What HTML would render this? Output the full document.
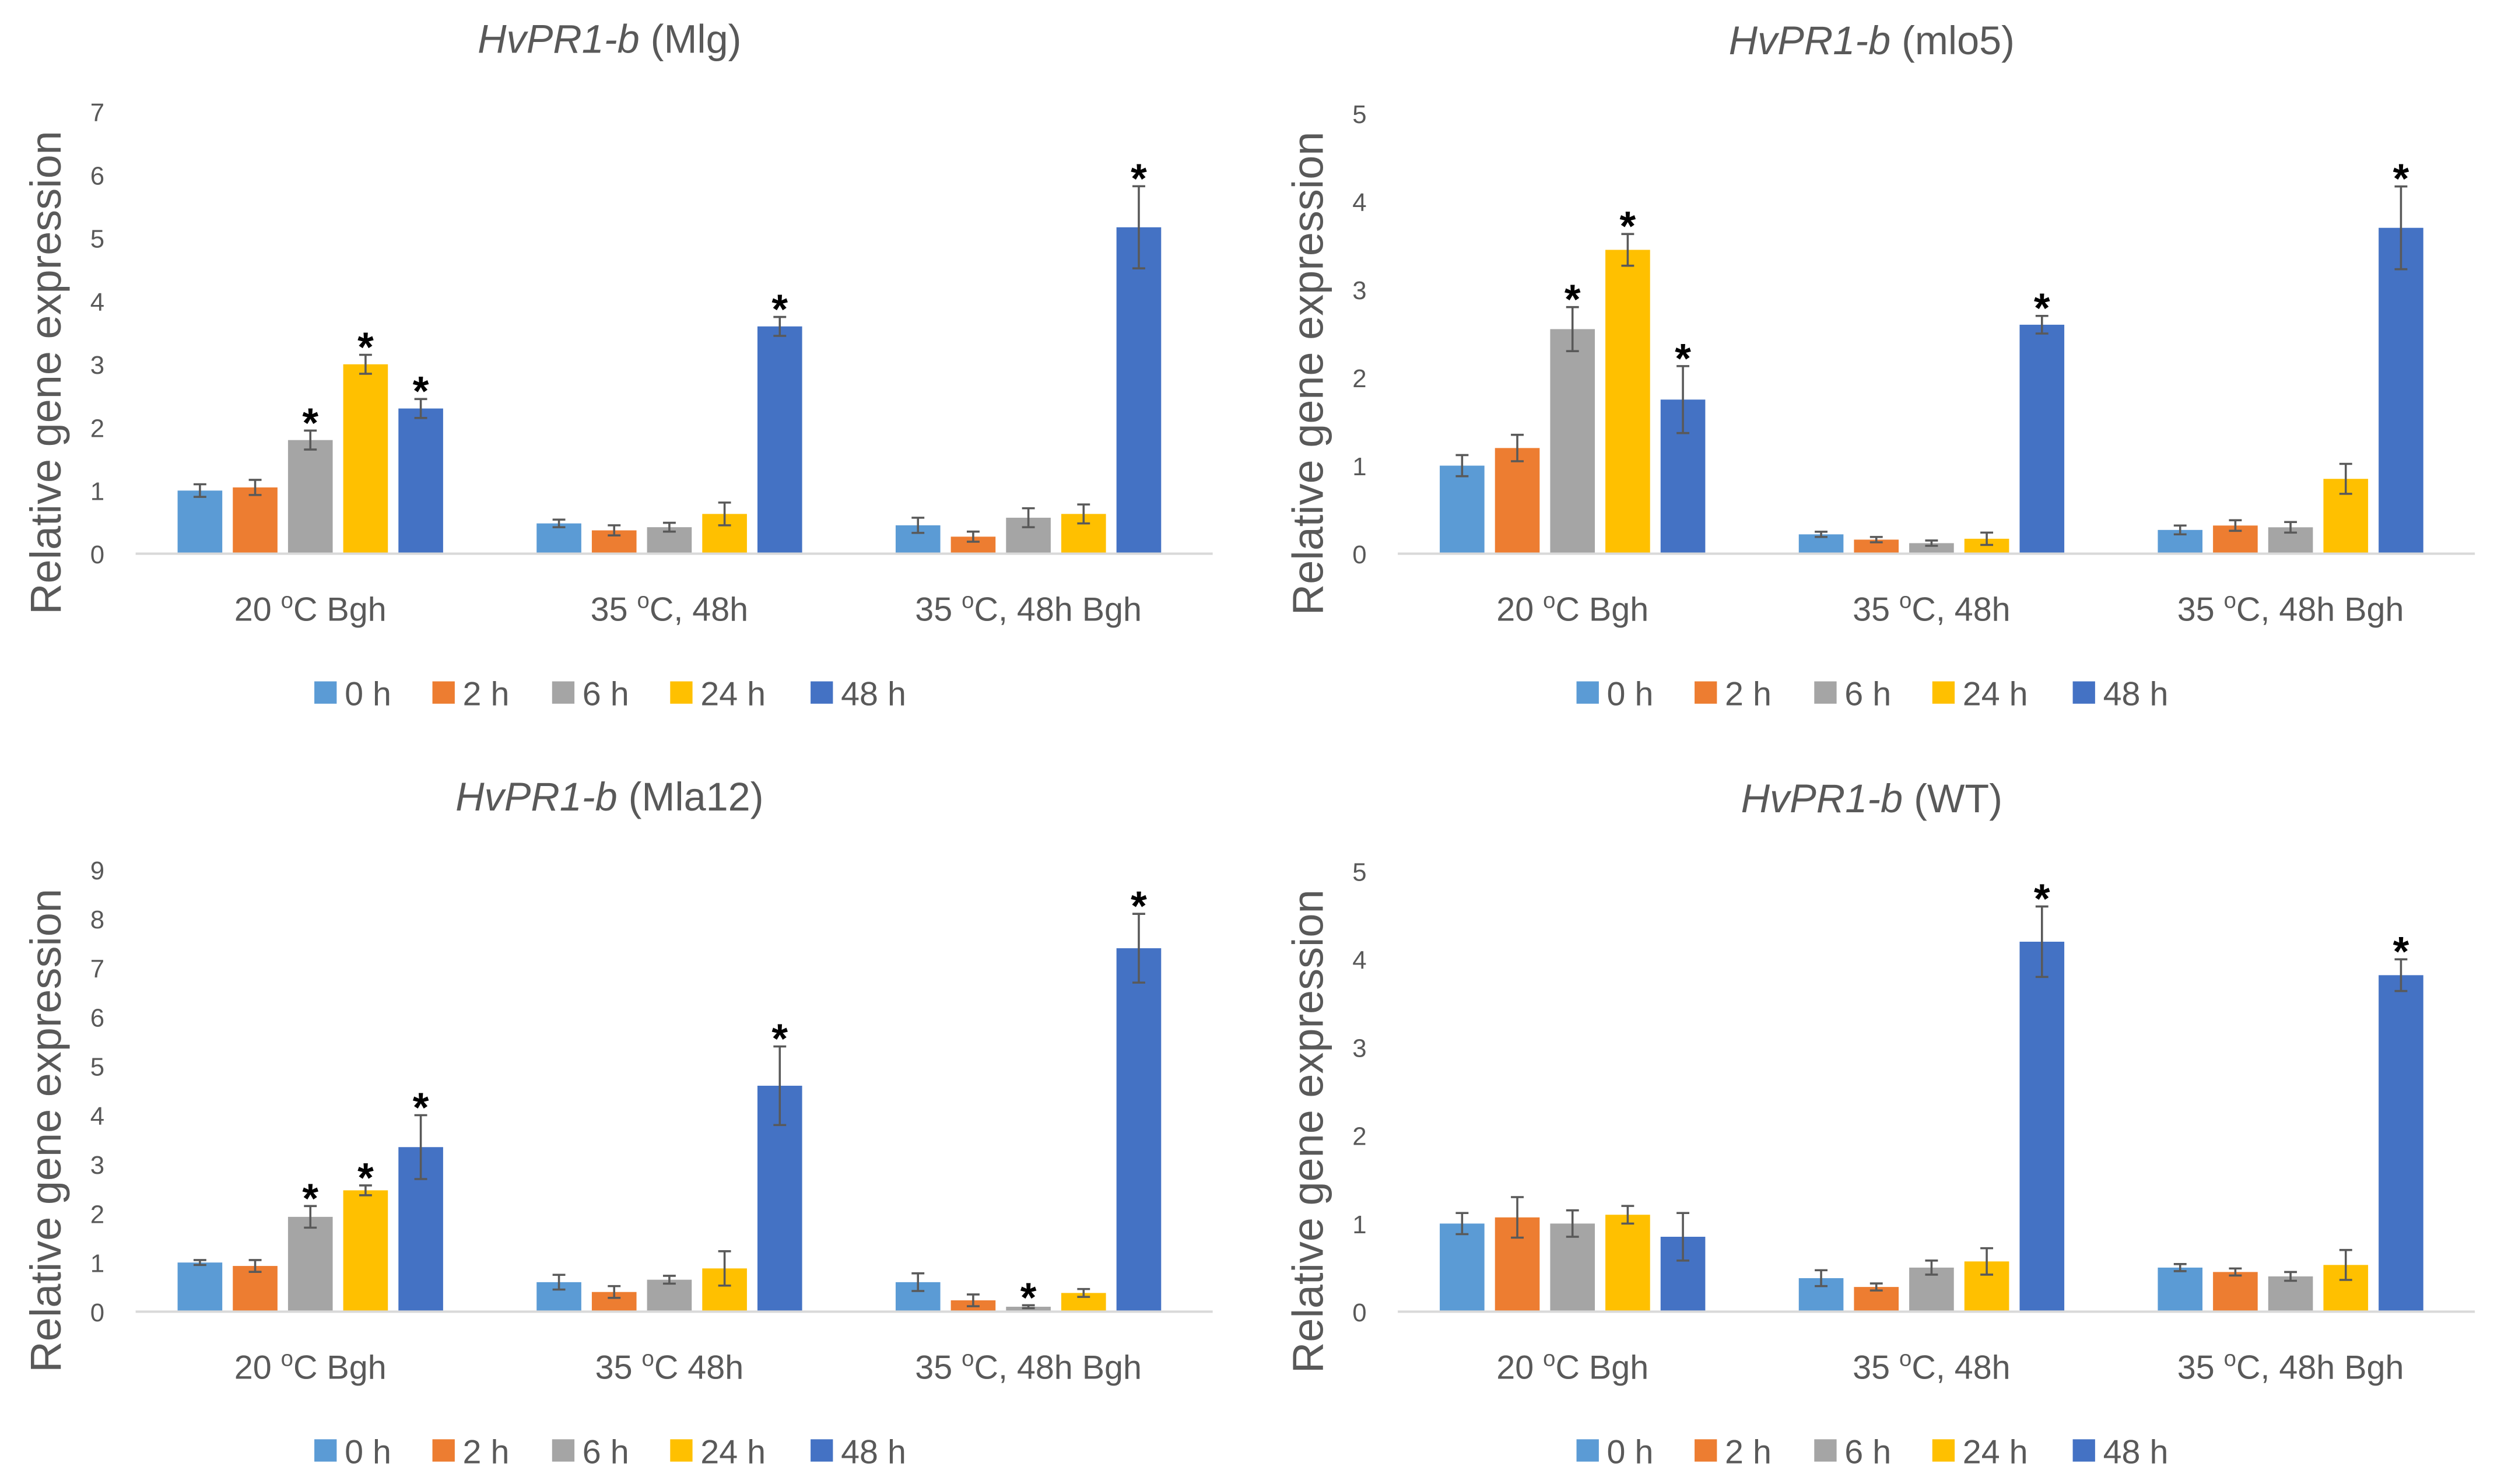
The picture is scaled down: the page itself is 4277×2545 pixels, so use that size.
<!DOCTYPE html>
<html><head><meta charset="utf-8"><style>
html,body{margin:0;padding:0;background:#fff;}
svg{display:block;}
</style></head>
<body>
<svg id="fig" width="4277" height="2545" viewBox="0 0 1563 930" xmlns="http://www.w3.org/2000/svg"></svg>
<script>
const categoriesA = ["20 |C Bgh", "35 |C, 48h", "35 |C, 48h Bgh"];
const categoriesC = ["20 |C Bgh", "35 |C 48h", "35 |C, 48h Bgh"];
const seriesNames = ["0 h", "2 h", "6 h", "24 h", "48 h"];
const seriesColors = ["#5B9BD5", "#ED7D31", "#A5A5A5", "#FFC000", "#4472C4"];

const mlgValues = [[1.0,1.05,1.8,3.0,2.3],[0.48,0.37,0.42,0.63,3.6],[0.45,0.27,0.57,0.63,5.17]];
const mlgErrors = [[0.1,0.12,0.15,0.15,0.15],[0.06,0.08,0.07,0.18,0.15],[0.12,0.08,0.15,0.15,0.65]];
const mlgStars = [[2,3,4],[4],[4]];
const mlgTicks = [0,1,2,3,4,5,6,7];

const mlo5Values = [[1.0,1.2,2.55,3.45,1.75],[0.22,0.16,0.12,0.17,2.6],[0.27,0.32,0.3,0.85,3.7]];
const mlo5Errors = [[0.12,0.15,0.25,0.18,0.38],[0.03,0.03,0.03,0.07,0.1],[0.05,0.06,0.06,0.17,0.47]];
const mlo5Stars = [[2,3,4],[4],[4]];
const mlo5Ticks = [0,1,2,3,4,5];

const mla12Values = [[1.0,0.93,1.93,2.47,3.35],[0.6,0.4,0.65,0.88,4.6],[0.6,0.23,0.1,0.38,7.4]];
const mla12Errors = [[0.05,0.12,0.22,0.1,0.65],[0.15,0.12,0.08,0.35,0.8],[0.18,0.12,0.03,0.08,0.7]];
const mla12Stars = [[2,3,4],[4],[2,4]];
const mla12Ticks = [0,1,2,3,4,5,6,7,8,9];

const wtValues = [[1.0,1.07,1.0,1.1,0.85],[0.38,0.28,0.5,0.57,4.2],[0.5,0.45,0.4,0.53,3.82]];
const wtErrors = [[0.12,0.23,0.15,0.1,0.27],[0.09,0.04,0.08,0.15,0.4],[0.04,0.04,0.05,0.17,0.18]];
const wtStars = [[],[4],[4]];
const wtTicks = [0,1,2,3,4,5];

const NS = "http://www.w3.org/2000/svg";
const svg = document.getElementById('fig');
const FONT = '"Liberation Sans Narrow","Liberation Sans",sans-serif';
function mk(tag, attrs, parent){
  const e = document.createElementNS(NS, tag);
  for (const k in attrs) e.setAttribute(k, attrs[k]);
  (parent||svg).appendChild(e);
  return e;
}
function catLabel(g, txt, x, y, name){
  const t = mk('text', {x:x, y:y, 'text-anchor':'middle', 'font-size':21, fill:'#595959', 'font-family':FONT}, g);
  
  
  const parts = txt.split('|');
  const a = mk('tspan', {}, t); a.textContent = parts[0];
  const b = mk('tspan', {dy:-8, 'font-size':14}, t); b.textContent = 'o';
  const c = mk('tspan', {dy:8}, t); c.textContent = parts[1];
}
function drawChart(opt){
  const g = mk('g', {});
  
  
  const left = opt.left, right = opt.left + 675, base = opt.base, top = opt.top;
  const maxV = opt.ticks[opt.ticks.length-1];
  const yS = v => base - v / maxV * (base - top);
  const groupW = (right - left) / opt.cats.length;
  const xC = i => left - 3 + groupW * (i + 0.5);
  const step = 34.6, bw = 28;
  const tt = mk('text', {x: left + 297, y: opt.top - 37, 'text-anchor':'middle', 'font-size':25, fill:'#595959', 'font-family':FONT}, g);
  
  
  const t1 = mk('tspan', {'font-style':'italic'}, tt); t1.textContent = 'HvPR1-b';
  const t2 = mk('tspan', {}, tt); t2.textContent = ' (' + opt.label + ')';
  opt.ticks.forEach(v => {
    const t = mk('text', {x:left - 24, y: yS(v) + 6, 'text-anchor':'middle', 'font-size':16, fill:'#595959', 'font-family':FONT}, g);
    
    
    t.textContent = v;
  });
  const yt = mk('text', {x:0, y:0, transform:'translate(' + (left - 47) + ',' + ((top + base)/2 + 25) + ') rotate(-90)', 'text-anchor':'middle', 'font-size':27, fill:'#595959', 'font-family':'"Liberation Sans",sans-serif'}, g);
  
  
  yt.textContent = 'Relative gene expression';
  opt.values.forEach((grp, gi) => {
    grp.forEach((v, si) => {
      const cx = xC(gi) + (si - 2) * step;
      const r = mk('rect', {x: cx - bw/2, y: yS(v), width: bw, height: base - yS(v), fill: seriesColors[si]}, g);
      
      
      const e = opt.errors[gi][si];
      const yt1 = yS(v + e), yb = yS(Math.max(0, v - e));
      const eb = mk('path', {d:'M' + cx + ' ' + yt1 + 'V' + yb + 'M' + (cx-4) + ' ' + yt1 + 'H' + (cx+4) + 'M' + (cx-4) + ' ' + yb + 'H' + (cx+4), stroke:'#595959', 'stroke-width':1.3, fill:'none'}, g);
      
      
      if (opt.stars[gi].indexOf(si) >= 0) {
        const s = mk('text', {x: cx, y: yt1 + 4, 'text-anchor':'middle', 'font-size':26, 'font-weight':'bold', fill:'#000', 'font-family':'"Liberation Sans",sans-serif'}, g);
        
        
        s.textContent = '*';
      }
    });
    catLabel(g, opt.cats[gi], xC(gi), base + 42, 'x-category-label');
  });
  const ax = mk('line', {x1:left, x2:right, y1:base, y2:base, stroke:'#D9D9D9', 'stroke-width':1.5}, g);
  
  
  const lx = [0, 74, 149, 223, 311];
  seriesNames.forEach((n, si) => {
    const x0 = left + 112 + lx[si];
    const ly = base + 87;
    const sq = mk('rect', {x:x0, y:ly - 7, width:14, height:14, fill:seriesColors[si]}, g);
    
    
    const t = mk('text', {x:x0 + 19, y:ly + 8, 'font-size':21, fill:'#595959', 'font-family':FONT}, g);
    
    
    t.textContent = n;
  });
}
drawChart({name:'chart-mlg', label:'Mlg', left:85, base:347, top:70, ticks:mlgTicks, values:mlgValues, errors:mlgErrors, stars:mlgStars, cats:categoriesA});
drawChart({name:'chart-mlo5', label:'mlo5', left:876, base:347, top:71, ticks:mlo5Ticks, values:mlo5Values, errors:mlo5Errors, stars:mlo5Stars, cats:categoriesA});
drawChart({name:'chart-mla12', label:'Mla12', left:85, base:822, top:545, ticks:mla12Ticks, values:mla12Values, errors:mla12Errors, stars:mla12Stars, cats:categoriesC});
drawChart({name:'chart-wt', label:'WT', left:876, base:822, top:546, ticks:wtTicks, values:wtValues, errors:wtErrors, stars:wtStars, cats:categoriesA});
</script>
</body></html>
